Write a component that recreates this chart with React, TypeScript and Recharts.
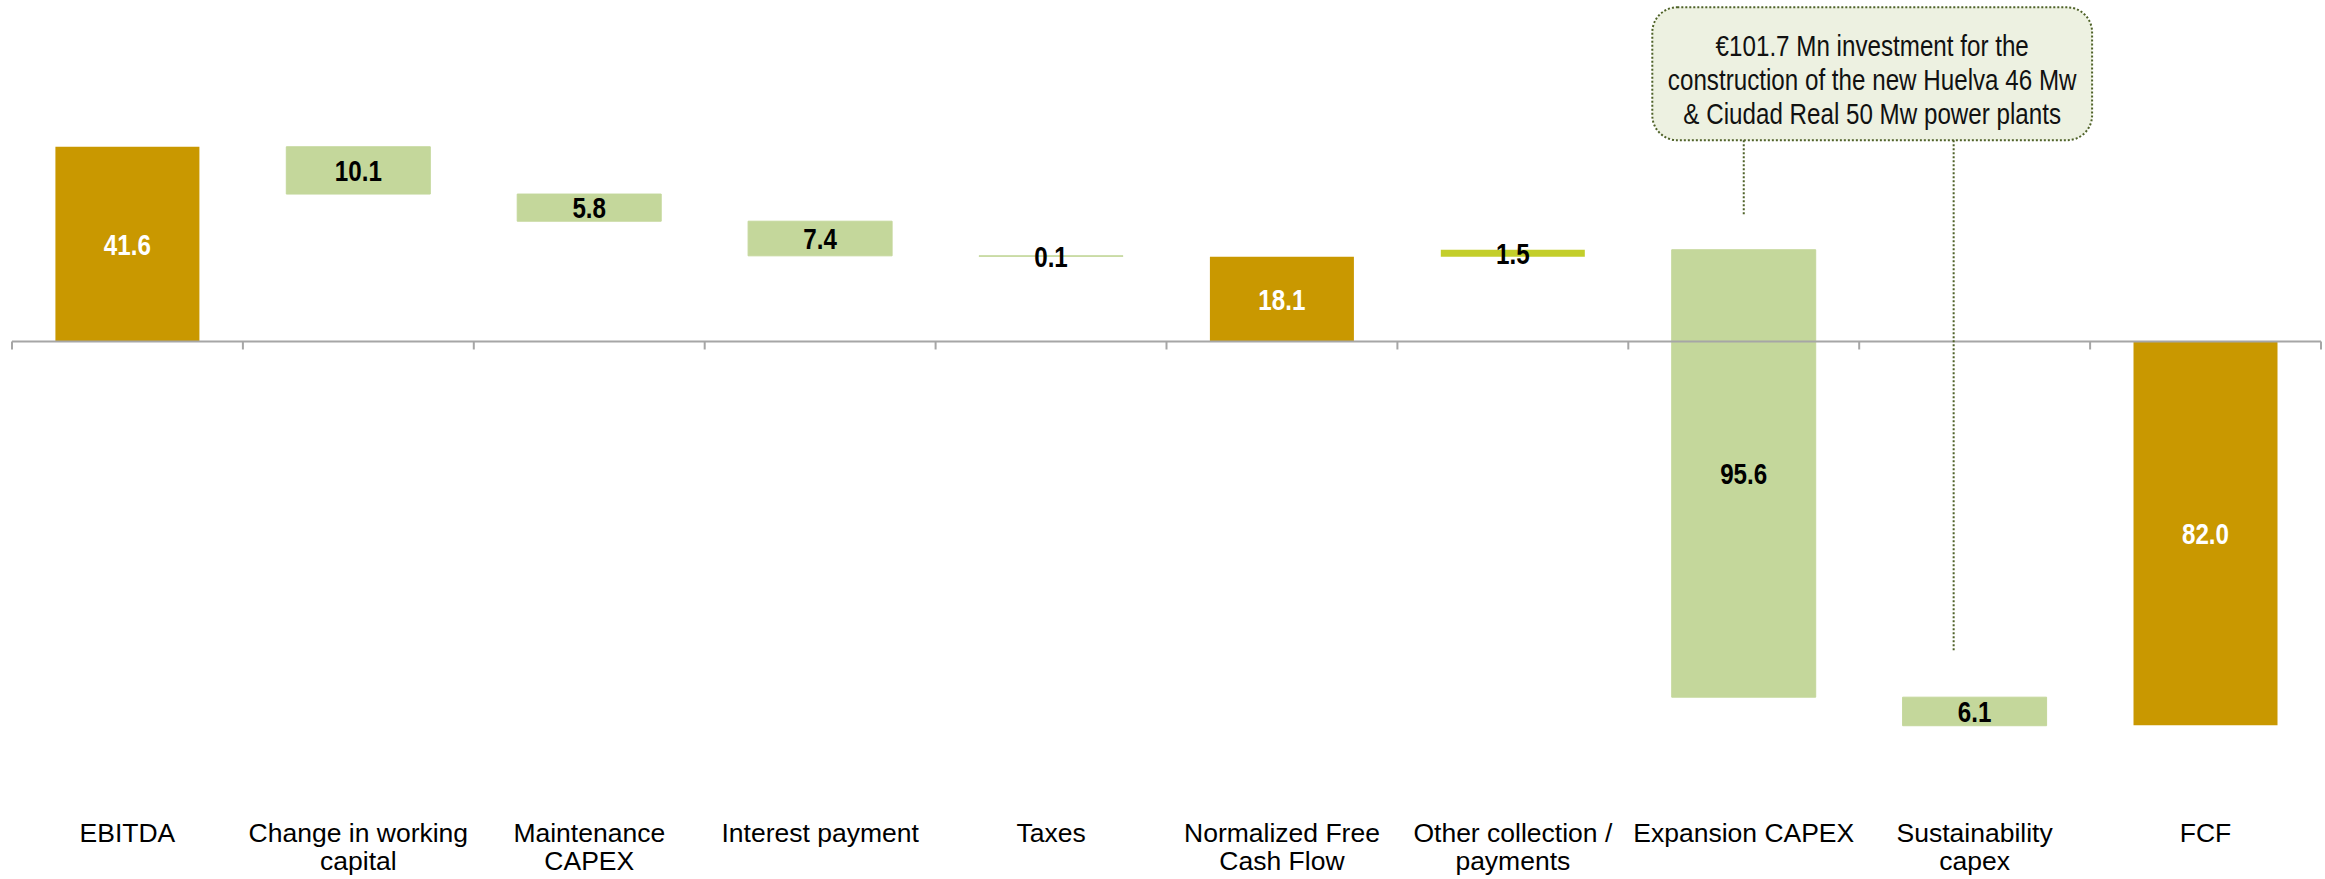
import React from 'react';
import { BarChart, Bar, XAxis, YAxis, Cell, LabelList, ReferenceLine, ReferenceArea } from 'recharts';

const categories = [
  'EBITDA',
  'Change in working capital',
  'Maintenance CAPEX',
  'Interest payment',
  'Taxes',
  'Normalized Free Cash Flow',
  'Other collection / payments',
  'Expansion CAPEX',
  'Sustainability capex',
  'FCF',
];

const tickLines = [
  ['EBITDA'],
  ['Change in working', 'capital'],
  ['Maintenance', 'CAPEX'],
  ['Interest payment'],
  ['Taxes'],
  ['Normalized Free', 'Cash Flow'],
  ['Other collection /', 'payments'],
  ['Expansion CAPEX'],
  ['Sustainability', 'capex'],
  ['FCF'],
];

const amounts = [41.6, -10.1, -5.8, -7.4, -0.1, 18.1, 1.5, -95.6, -6.1, -82.0];
const kinds = ['total', 'down', 'down', 'down', 'down', 'total', 'up', 'down', 'down', 'total'];

const noteLines = [
  '€101.7 Mn investment for the',
  'construction of the new Huelva 46 Mw',
  '& Ciudad Real 50 Mw power plants',
];

const colors: Record<string, string> = { total: '#C99800', down: '#C4D79B', up: '#C3CE2B' };
const FONT = "'Liberation Sans', Arial, sans-serif";
const NARROW = 0.82; // no Arial Narrow installed, squeeze Liberation Sans instead
const NOTE_GREEN = '#4F6228';

// running total -> floating [low, high] range for each bar
let level = 0;
const data = categories.map((name, i) => {
  const v = amounts[i];
  let start = level;
  let end = level + v;
  if (kinds[i] === 'total') {
    start = 0;
    end = v;
  }
  level = end;
  return { name, range: [Math.min(start, end), Math.max(start, end)], amount: Math.abs(v).toFixed(1), kind: kinds[i] };
});

const CategoryTick = (props: any) => {
  const { x, y, payload } = props;
  const lines = tickLines[categories.indexOf(payload.value)] || [payload.value];
  return (
    <text x={x} y={y} textAnchor="middle" fontFamily={FONT} fontSize={26.5} fill="#000">
      {lines.map((l, k) => (
        <tspan key={k} x={x} dy={k === 0 ? 32 : 28.6}>{l}</tspan>
      ))}
    </text>
  );
};

const ZeroAxis = (props: any) => {
  const { x1, y1, x2, y2 } = props;
  const n = categories.length;
  const step = (x2 - x1) / n;
  return (
    <g>
      <line x1={x1} y1={y1} x2={x2} y2={y2} stroke="#A6A6A6" strokeWidth={2} />
      {Array.from({ length: n + 1 }, (_, i) => (
        <line key={i} x1={x1 + i * step} x2={x1 + i * step} y1={y1} y2={y1 + 8} stroke="#A6A6A6" strokeWidth={2} />
      ))}
    </g>
  );
};

const NoteBox = (props: any) => {
  const { x, y, width, height } = props;
  const left = x + 24;
  const w = width - 22;
  return (
    <g>
      <rect x={left} y={y} width={w} height={height} rx={25} ry={25} fill="#EDF1E1" stroke={NOTE_GREEN} strokeWidth={2} strokeDasharray="2 2" />
      <g transform={`translate(${left + w / 2},${y}) scale(${NARROW},1)`}>
        <text textAnchor="middle" fontFamily={FONT} fontSize={29.5} fill="#111">
          {noteLines.map((l, k) => (
            <tspan key={k} x={0} y={48.7 + k * 34}>{l}</tspan>
          ))}
        </text>
      </g>
    </g>
  );
};

const ValueLabel = (props: any) => {
  const { x, y, width, height, value, index } = props;
  const top = Math.min(y, y + height);
  const h = Math.abs(height);
  return (
    <g transform={`translate(${x + width / 2},${top + h / 2 + 10.5}) scale(${NARROW},1)`}>
      <text x={0} y={0} textAnchor="middle" fontFamily={FONT} fontWeight="bold" fontSize={29.5}
        fill={data[index].kind === 'total' ? '#FFFFFF' : '#000000'}>
        {value}
      </text>
    </g>
  );
};

export default function App() {
  return (
    <div style={{ position: 'absolute', left: 0, top: 0 }}>
      <BarChart width={2325} height={879} data={data} margin={{ top: 4.5, right: 4, bottom: 0, left: 12 }} barCategoryGap="18.8%">
        <XAxis dataKey="name" height={69.5} axisLine={false} tickLine={false} tickSize={0} tickMargin={0} interval={0} tick={<CategoryTick />} />
        <YAxis hide type="number" domain={[-100, 72]} allowDataOverflow />
        <ReferenceLine y={0} shape={<ZeroAxis />} />
        <ReferenceArea x1="Expansion CAPEX" x2="Sustainability capex" y1={43} y2={71.4} shape={<NoteBox />} />
        <ReferenceLine
          segment={[{ x: 'Expansion CAPEX', y: 43 }, { x: 'Expansion CAPEX', y: 27 }]}
          stroke={NOTE_GREEN} strokeWidth={2} strokeDasharray="2 2"
        />
        <ReferenceLine
          segment={[{ x: 'Sustainability capex', y: 43 }, { x: 'Sustainability capex', y: -66.3 }]}
          shape={(p: any) => (
            <line x1={p.x1 - 21} y1={p.y1} x2={p.x2 - 21} y2={p.y2} stroke={NOTE_GREEN} strokeWidth={2} strokeDasharray="2 2" />
          )}
        />
        <Bar dataKey="range" isAnimationActive={false}>
          {data.map((d, i) => (
            <Cell key={i} fill={colors[d.kind]} stroke={colors[d.kind]} strokeWidth={d.kind === 'down' ? 1 : 0} />
          ))}
          <LabelList dataKey="amount" content={<ValueLabel />} />
        </Bar>
      </BarChart>
    </div>
  );
}
